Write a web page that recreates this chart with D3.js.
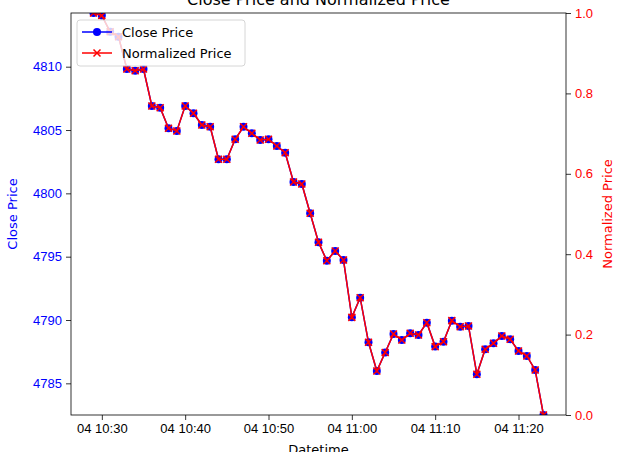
<!DOCTYPE html>
<html>
<head>
<meta charset="utf-8">
<script src="https://cdn.jsdelivr.net/npm/d3@7"></script>
<style>
  body { margin: 0; background: #fff; }
  svg { font-family: "DejaVu Sans", sans-serif; }
</style>
</head>
<body>
<div id="chart"></div>
<script>
// one close per minute, 04 10:29 .. 04 11:23
const startTime = "2024-01-04T10:29:00";
const closePrices = [
  4814.24, 4814.04, 4812.76, 4812.37, 4809.82, 4809.68, 4809.82, 4806.90, 4806.76, 4805.14,
  4804.93, 4806.90, 4806.32, 4805.40, 4805.26, 4802.69, 4802.69, 4804.27, 4805.26, 4804.74,
  4804.21, 4804.27, 4803.74, 4803.21, 4800.90, 4800.74, 4798.43, 4796.14, 4794.68, 4795.45,
  4794.74, 4790.21, 4791.76, 4788.24, 4785.97, 4787.44, 4788.90, 4788.42, 4788.95, 4788.82,
  4789.79, 4787.90, 4788.29, 4789.95, 4789.47, 4789.53, 4785.72, 4787.69, 4788.16, 4788.74,
  4788.48, 4787.56, 4787.16, 4786.06, 4782.50
];
const leftTicks = [4785, 4790, 4795, 4800, 4805, 4810];
const rightTicks = [0, 0.2, 0.4, 0.6, 0.8, 1.0];
const seriesNames = ["Close Price", "Normalized Price"];

const width = 621, height = 452;
const margin = { top: 13, right: 55, bottom: 37, left: 71 };
const innerW = width - margin.left - margin.right;
const innerH = height - margin.top - margin.bottom;

const t0 = new Date(startTime);
const minP = d3.min(closePrices), maxP = d3.max(closePrices);
const data = closePrices.map((c, i) => ({
  t: d3.timeMinute.offset(t0, i),
  close: c,
  norm: (c - minP) / (maxP - minP)   // min-max scaling of the close
}));

const svg = d3.select("#chart").append("svg")
  .attr("width", width)
  .attr("height", height);

svg.append("defs").append("clipPath").attr("id", "plot-clip")
  .append("rect").attr("width", innerW).attr("height", innerH);

const g = svg.append("g").attr("transform", `translate(${margin.left},${margin.top})`);

// matplotlib style 5% x margin
const tExt = d3.extent(data, d => d.t);
const pad = (tExt[1] - tExt[0]) * 0.05;
const x = d3.scaleTime()
  .domain([new Date(+tExt[0] - pad), new Date(+tExt[1] + pad)])
  .range([0, innerW]);
const yLeft = d3.scaleLinear().domain([minP, maxP]).range([innerH, 0]);
const yRight = d3.scaleLinear().domain([0, 1]).range([innerH, 0]);

// axes
const xAxis = g.append("g").attr("transform", `translate(0,${innerH})`)
  .call(d3.axisBottom(x).ticks(d3.timeMinute.every(10)).tickFormat(d3.timeFormat("%d %H:%M"))
    .tickSize(5).tickPadding(4));
const lAxis = g.append("g")
  .call(d3.axisLeft(yLeft).tickValues(leftTicks).tickFormat(d3.format("d")).tickSize(5).tickPadding(4));
const rAxis = g.append("g").attr("transform", `translate(${innerW},0)`)
  .call(d3.axisRight(yRight).tickValues(rightTicks).tickFormat(d3.format(".1f")).tickSize(5).tickPadding(4));

[xAxis, lAxis, rAxis].forEach(a => {
  a.select(".domain").remove();
  a.selectAll("text").style("font-size", "13px");
  a.selectAll("line").attr("stroke", "#000").attr("stroke-width", 0.8);
});
xAxis.selectAll("text").attr("fill", "#000");
lAxis.selectAll("text").attr("fill", "blue");
rAxis.selectAll("text").attr("fill", "red");

// lines + markers
const plot = g.append("g").attr("clip-path", "url(#plot-clip)");

const lineClose = d3.line().x(d => x(d.t)).y(d => yLeft(d.close));
const lineNorm = d3.line().x(d => x(d.t)).y(d => yRight(d.norm));

plot.append("path").datum(data)
  .attr("fill", "none").attr("stroke", "blue").attr("stroke-width", 1.5)
  .attr("d", lineClose);
plot.append("g").selectAll("circle").data(data).join("circle")
  .attr("cx", d => x(d.t)).attr("cy", d => yLeft(d.close))
  .attr("r", 4).attr("fill", "blue");

plot.append("path").datum(data)
  .attr("fill", "none").attr("stroke", "red").attr("stroke-width", 1.5)
  .attr("d", lineNorm);
const xMark = "M-3.5,-3.5L3.5,3.5M-3.5,3.5L3.5,-3.5";
plot.append("g").selectAll("path").data(data).join("path")
  .attr("transform", d => `translate(${x(d.t)},${yRight(d.norm)})`)
  .attr("d", xMark).attr("stroke", "red").attr("stroke-width", 1.5).attr("fill", "none");

// frame
g.append("rect").attr("width", innerW).attr("height", innerH)
  .attr("fill", "none").attr("stroke", "#000").attr("stroke-width", 0.8);

// labels
svg.append("text")
  .attr("x", margin.left + innerW / 2).attr("y", 5)
  .attr("text-anchor", "middle").style("font-size", "16px")
  .text("Close Price and Normalized Price");
svg.append("text")
  .attr("x", margin.left + innerW / 2).attr("y", 454)
  .attr("text-anchor", "middle").style("font-size", "13px")
  .text("Datetime");
svg.append("text")
  .attr("transform", `translate(17,${margin.top + innerH / 2}) rotate(-90)`)
  .attr("text-anchor", "middle").attr("fill", "blue").style("font-size", "13px")
  .text(seriesNames[0]);
svg.append("text")
  .attr("transform", `translate(612,${margin.top + innerH / 2}) rotate(-90)`)
  .attr("text-anchor", "middle").attr("fill", "red").style("font-size", "13px")
  .text(seriesNames[1]);

// legend
const legend = svg.append("g").attr("transform", "translate(77,20)");
legend.append("rect")
  .attr("width", 168).attr("height", 46).attr("rx", 3)
  .attr("fill", "#fff").attr("fill-opacity", 0.8)
  .attr("stroke", "#cccccc").attr("stroke-width", 0.8);
seriesNames.forEach((name, i) => {
  const yy = 12 + i * 21;
  const col = i === 0 ? "blue" : "red";
  legend.append("line").attr("x1", 5).attr("x2", 35).attr("y1", yy).attr("y2", yy)
    .attr("stroke", col).attr("stroke-width", 1.5);
  if (i === 0) {
    legend.append("circle").attr("cx", 20).attr("cy", yy).attr("r", 4).attr("fill", col);
  } else {
    legend.append("path").attr("transform", `translate(20,${yy})`).attr("d", xMark)
      .attr("stroke", col).attr("stroke-width", 1.5);
  }
  legend.append("text").attr("x", 45).attr("y", yy).attr("dy", "0.35em")
    .style("font-size", "13px").text(name);
});
</script>
</body>
</html>
